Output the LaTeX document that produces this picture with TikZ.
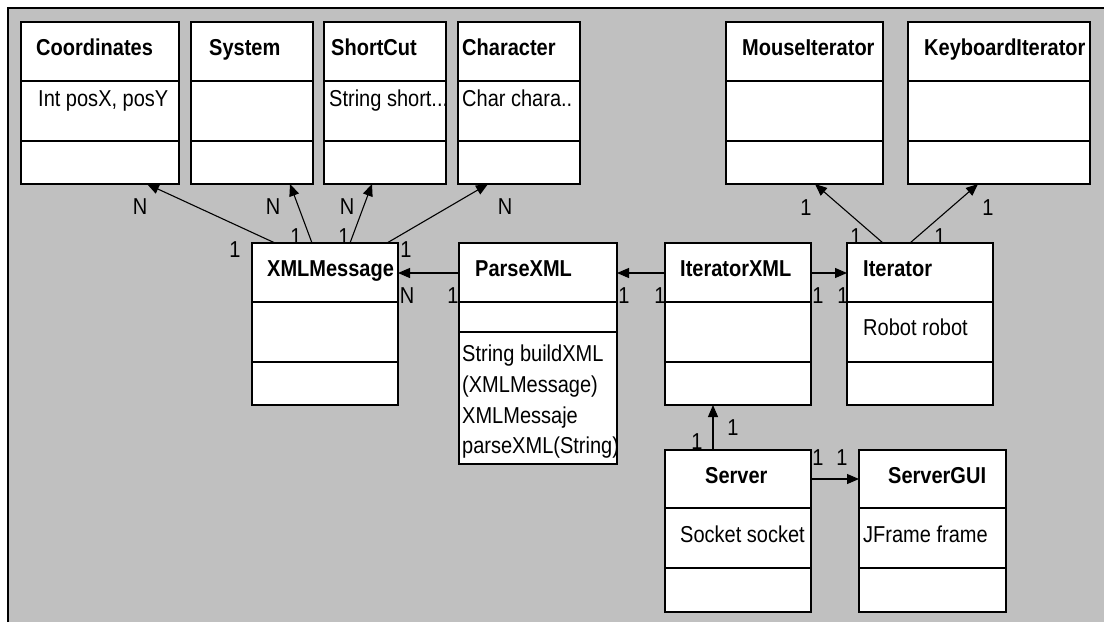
\documentclass[tikz,border=0pt]{standalone}
\usepackage{fontspec}
\setmainfont{Liberation Sans}[FakeStretch=0.87]
\usetikzlibrary{arrows.meta,calc}
\definecolor{bggray}{RGB}{192,192,192}
\tikzset{
  cls/.style={draw=black, fill=white, line width=1.2pt, rectangle, inner sep=0pt, outer sep=0pt, anchor=north west},
  divline/.style={draw=black, line width=1.2pt},
  hdr/.style={anchor=base west, inner sep=0pt, font=\fontsize{23}{27}\selectfont\bfseries},
  attr/.style={anchor=base west, inner sep=0pt, font=\fontsize{23}{27}\selectfont},
  mult/.style={anchor=center, inner sep=0pt, font=\fontsize{23}{27}\selectfont},
  assoc/.style={draw=black, line width=1.1pt, -{Triangle[length=12pt,width=10pt]}},
}
\begin{document}
\begin{tikzpicture}[x=1pt,y=-1pt]
\useasboundingbox (0,0) rectangle (1104,622);
\fill[bggray] (8,8) rectangle (1104,622);
\draw[line width=1.4pt] (8,622) -- (8,8) -- (1104,8);

% class boxes
\node[cls, minimum width=158pt, minimum height=162pt] (coord) at (21,22) {};
\draw[divline] (21,81) -- (179,81); \draw[divline] (21,141) -- (179,141);
\node[cls, minimum width=122pt, minimum height=162pt] (system) at (191,22) {};
\draw[divline] (191,81) -- (313,81); \draw[divline] (191,141) -- (313,141);
\node[cls, minimum width=122pt, minimum height=162pt] (shortcut) at (324,22) {};
\draw[divline] (324,81) -- (446,81); \draw[divline] (324,141) -- (446,141);
\node[cls, minimum width=122pt, minimum height=162pt] (character) at (458,22) {};
\draw[divline] (458,81) -- (580,81); \draw[divline] (458,141) -- (580,141);
\node[cls, minimum width=157pt, minimum height=162pt] (mouse) at (726,22) {};
\draw[divline] (726,81) -- (883,81); \draw[divline] (726,141) -- (883,141);
\node[cls, minimum width=182pt, minimum height=162pt] (keyboard) at (908,22) {};
\draw[divline] (908,81) -- (1090,81); \draw[divline] (908,141) -- (1090,141);

\node[cls, minimum width=146pt, minimum height=162pt] (xml) at (252,243) {};
\draw[divline] (252,302) -- (398,302); \draw[divline] (252,362) -- (398,362);
\node[cls, minimum width=158pt, minimum height=221pt] (parse) at (459,243) {};
\draw[divline] (459,302) -- (617,302); \draw[divline] (459,332) -- (617,332);
\node[cls, minimum width=146pt, minimum height=162pt] (iterxml) at (665,243) {};
\draw[divline] (665,302) -- (811,302); \draw[divline] (665,362) -- (811,362);
\node[cls, minimum width=146pt, minimum height=162pt] (iter) at (847,243) {};
\draw[divline] (847,302) -- (993,302); \draw[divline] (847,362) -- (993,362);
\node[cls, minimum width=146pt, minimum height=162pt] (server) at (665,450) {};
\draw[divline] (665,508) -- (811,508); \draw[divline] (665,568) -- (811,568);
\node[cls, minimum width=147pt, minimum height=162pt] (gui) at (859,450) {};
\draw[divline] (859,508) -- (1006,508); \draw[divline] (859,568) -- (1006,568);

% headers
\node[hdr] (tcoord) at (36,55) {Coordinates};
\node[hdr] (tsystem) at (209,55) {System};
\node[hdr] (tshort) at (331,55) {ShortCut};
\node[hdr] (tchar) at (462,55) {Character};
\node[hdr] (tmouse) at (742,55) {MouseIterator};
\node[hdr] (tkey) at (924,55) {KeyboardIterator};
\node[hdr] (txml) at (267,276) {XMLMessage};
\node[hdr] (tparse) at (475,276) {ParseXML};
\node[hdr] (titerxml) at (680,276) {IteratorXML};
\node[hdr] (titer) at (863,276) {Iterator};
\node[hdr] (tserver) at (705,483) {Server};
\node[hdr] (tgui) at (888,483) {ServerGUI};

% attributes / methods
\node[attr] (acoord) at (38,106) {Int posX, posY};
\node[attr] (ashort) at (329,106) {String short...};
\node[attr] (achar) at (462,106) {Char chara..};
\node[attr] (aiter) at (863,335) {Robot robot};
\node[attr] (aserver) at (680,542) {Socket socket};
\node[attr] (agui) at (863,542) {JFrame frame};
\node[attr] (m1) at (462,361) {String buildXML};
\node[attr] (m2) at (462,392) {(XMLMessage)};
\node[attr] (m3) at (462,423) {XMLMessaje};
\node[attr] (m4) at (462,453) {parseXML(String)};

% connectors
\draw[assoc] ($(xml.north west)+(23,0)$) -- ($(coord.south west)+(126,0)$);
\draw[assoc] ($(xml.north west)+(60,0)$) -- ($(system.south west)+(99,0)$);
\draw[assoc] ($(xml.north west)+(98,0)$) -- ($(shortcut.south west)+(48,0)$);
\draw[assoc] ($(xml.north west)+(135,0)$) -- ($(character.south west)+(30,0)$);
\draw[assoc] ($(parse.north west)+(0,30)$) -- ($(xml.north east)+(0,30)$);
\draw[assoc] ($(iterxml.north west)+(0,30)$) -- ($(parse.north east)+(0,30)$);
\draw[assoc] ($(iterxml.north east)+(0,30)$) -- ($(iter.north west)+(0,30)$);
\draw[assoc] ($(iter.north west)+(36,0)$) -- ($(mouse.south west)+(89,0)$);
\draw[assoc] ($(iter.north west)+(63,0)$) -- ($(keyboard.south west)+(70,0)$);
\draw[assoc] ($(server.north west)+(48,0)$) -- ($(iterxml.south west)+(48,0)$);
\draw[assoc] ($(server.north east)+(0,29)$) -- ($(gui.north west)+(0,29)$);

% multiplicities
\node[mult] (n1) at (140,207) {N};
\node[mult] (o1) at (235,250) {1};
\node[mult] (n2) at (273,207) {N};
\node[mult] (o2) at (296,237) {1};
\node[mult] (n3) at (347,207) {N};
\node[mult] (o3) at (344,237) {1};
\node[mult] (n4) at (505,207) {N};
\node[mult] (o4) at (406,250) {1};
\node[mult] (n5) at (407,296) {N};
\node[mult] (o5) at (453,296) {1};
\node[mult] (o6) at (624,296) {1};
\node[mult] (o7) at (660,296) {1};
\node[mult] (o8) at (818,296) {1};
\node[mult] (o9) at (843,296) {1};
\node[mult] (o10) at (806,208) {1};
\node[mult] (o11) at (856,237) {1};
\node[mult] (o12) at (988,208) {1};
\node[mult] (o13) at (940,237) {1};
\node[mult] (o14) at (733,428) {1};
\node[mult] (o15) at (697,442) {1};
\node[mult] (o16) at (818,458) {1};
\node[mult] (o17) at (842,458) {1};
\end{tikzpicture}
\end{document}
